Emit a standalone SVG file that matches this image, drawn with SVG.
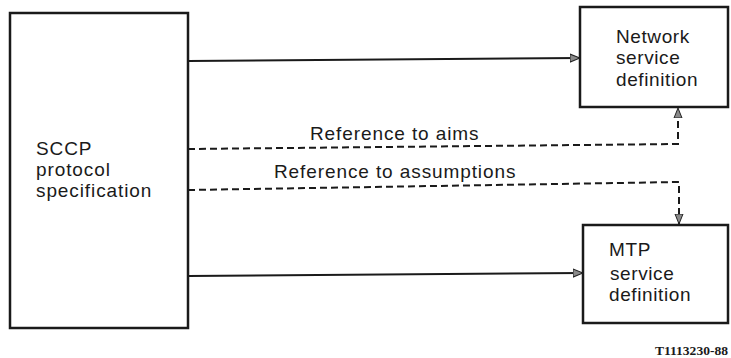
<svg xmlns="http://www.w3.org/2000/svg" width="731" height="358" viewBox="0 0 731 358">
<defs>
<marker id="arr" viewBox="0 0 10 10" refX="10" refY="5" markerWidth="10" markerHeight="10" markerUnits="userSpaceOnUse" orient="auto">
<path d="M0,1 L10,5 L0,9 Z" fill="#8a8a8a" stroke="#222" stroke-width="1"/>
</marker>
<style>
.box{fill:#fff;stroke:#1a1a1a;stroke-width:2.5}
.t{font-family:"Liberation Sans",Arial,sans-serif;font-size:19px;letter-spacing:0.6px;fill:#1a1a1a}
.w{letter-spacing:0.9px}
.s{fill:none;stroke:#1a1a1a;stroke-width:2}
.d{fill:none;stroke:#1a1a1a;stroke-width:2;stroke-dasharray:7 4}
.f{font-family:"Liberation Serif","Times New Roman",serif;font-size:13px;font-weight:bold;fill:#1a1a1a}
</style>
</defs>
<rect width="731" height="358" fill="#fff"/>
<g id="connectors">
<path class="s" d="M188,61 L580,58" marker-end="url(#arr)"/>
<path class="s" d="M188,276 L583,273" marker-end="url(#arr)"/>
<path class="d" d="M188,149 L678,144 L678,108" marker-end="url(#arr)"/>
<path class="d" d="M188,190 L679,182 L679,224" marker-end="url(#arr)"/>
<text class="t w" x="310" y="140">Reference to aims</text>
<text class="t w" x="274" y="178">Reference to assumptions</text>
</g>
<g id="sccp">
<rect class="box" x="10" y="13" width="178" height="315"/>
<text class="t w" x="36" y="155">SCCP</text>
<text class="t w" x="36" y="176">protocol</text>
<text class="t w" x="36" y="197">specification</text>
</g>
<g id="network">
<rect class="box" x="580" y="7" width="148" height="100"/>
<text class="t" x="616" y="43">Network</text>
<text class="t" x="616" y="64">service</text>
<text class="t" x="616" y="86">definition</text>
</g>
<g id="mtp">
<rect class="box" x="583" y="225" width="145" height="98"/>
<text class="t" x="609" y="256">MTP</text>
<text class="t" x="610" y="280">service</text>
<text class="t" x="609" y="301">definition</text>
</g>
<text class="f" x="655" y="355" textLength="73" lengthAdjust="spacingAndGlyphs">T1113230-88</text>
</svg>
